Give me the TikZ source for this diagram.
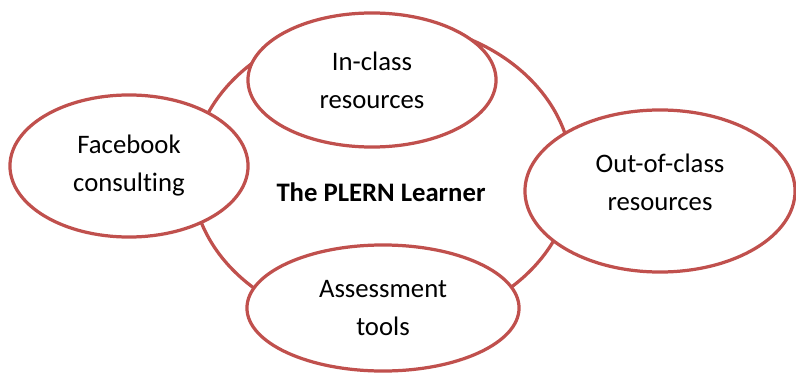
\documentclass[tikz,border=0pt]{standalone}
\usepackage{fontspec}
\setmainfont{Carlito}[Ligatures=NoCommon]
\usetikzlibrary{shapes.geometric}
\definecolor{ringred}{RGB}{192,80,77}

\begin{document}
\begin{tikzpicture}[
  x=0.025cm, y=-0.025cm,
  hub/.style={draw=ringred,line width=2.3pt,ellipse,inner sep=0pt},
  topic/.style={draw=ringred,line width=2.3pt,ellipse,fill=white,inner sep=0pt,align=center,font=\fontsize{19}{27}\selectfont}
]
\useasboundingbox (0,0) rectangle (796,374);

\node[hub,minimum width=9.5cm,minimum height=7.65cm] (learner) at (382,175) {};
\node[font=\fontsize{19}{27}\selectfont\bfseries] (title) at (381,192) {The PLERN Learner};

\node[topic,minimum width=6.2cm,minimum height=3.35cm] (inclass) at (372,80) {In-class\\resources};
\node[topic,minimum width=5.95cm,minimum height=3.55cm] (facebook) at (129,166) {Facebook\\consulting};
\node[topic,minimum width=6.75cm,minimum height=4.05cm,text depth=12pt] (outclass) at (660,191) {Out-of-class\\resources};
\node[topic,minimum width=6.8cm,minimum height=3.15cm] (assess) at (383,308) {Assessment\\tools};

%\node[below=of title] {};

\end{tikzpicture}
\end{document}
